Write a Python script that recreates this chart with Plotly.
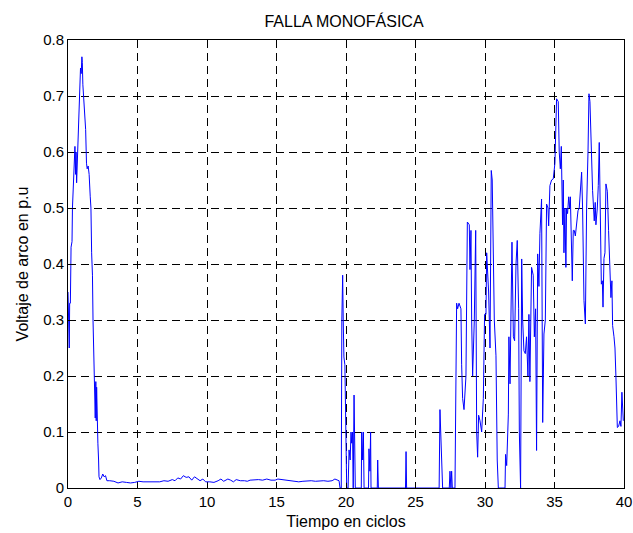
import plotly.graph_objects as go

# Segment 1: initial arc (0 - 2.2 cycles)
x_start = [0.00, 0.03, 0.06, 0.09, 0.12, 0.17, 0.22, 0.29, 0.32, 0.36, 0.42, 0.46, 0.50, 0.55, 0.58,
           0.62, 0.66, 0.72, 0.77, 0.82, 0.86, 0.90, 0.95, 1.00, 1.03, 1.07, 1.12, 1.18, 1.27, 1.33,
           1.38, 1.45, 1.52, 1.60, 1.65, 1.70, 1.76, 1.80, 1.86, 1.88, 1.92, 1.96, 2.00, 2.03, 2.06,
           2.10, 2.15, 2.20, 2.23]
y_start = [0.35, 0.30, 0.34, 0.25, 0.33, 0.33, 0.43, 0.44, 0.50, 0.53, 0.55, 0.59, 0.61, 0.56, 0.60,
           0.545, 0.575, 0.58, 0.64, 0.66, 0.72, 0.75, 0.74, 0.77, 0.76, 0.72, 0.70, 0.68, 0.64, 0.58,
           0.57, 0.575, 0.56, 0.52, 0.50, 0.42, 0.38, 0.30, 0.24, 0.18, 0.17, 0.125, 0.19, 0.12, 0.18,
           0.09, 0.08, 0.05, 0.02]

# Segment 2: low plateau (2.3 - 19.4 cycles)
x_flat = [2.3, 2.4, 2.5, 2.6, 2.7, 2.8, 3.0, 3.3, 3.6, 3.9, 4.2, 4.5, 4.8, 5.1, 5.4, 5.7, 6.0, 6.3,
          6.6, 6.9, 7.2, 7.5, 7.7, 7.9, 8.1, 8.3, 8.5, 8.7, 8.9, 9.1, 9.3, 9.5, 9.7, 9.9, 10.2, 10.5,
          10.8, 11.0, 11.2, 11.5, 11.7, 11.9, 12.1, 12.4, 12.7, 12.9, 13.1, 13.4, 13.7, 14.0, 14.3,
          14.6, 14.9, 15.1, 15.4, 15.7, 16.0, 16.3, 16.6, 16.9, 17.2, 17.5, 17.8, 18.1, 18.4, 18.7,
          19.0, 19.2, 19.4]
y_flat = [0.015, 0.018, 0.025, 0.02, 0.022, 0.013, 0.013, 0.012, 0.009, 0.011, 0.010, 0.009, 0.010,
          0.012, 0.011, 0.011, 0.011, 0.012, 0.011, 0.013, 0.012, 0.015, 0.013, 0.018, 0.016, 0.022,
          0.019, 0.020, 0.014, 0.020, 0.017, 0.013, 0.016, 0.011, 0.011, 0.010, 0.013, 0.016, 0.012,
          0.016, 0.014, 0.011, 0.015, 0.013, 0.013, 0.012, 0.014, 0.015, 0.015, 0.014, 0.016, 0.014,
          0.014, 0.016, 0.015, 0.014, 0.013, 0.011, 0.011, 0.012, 0.013, 0.013, 0.012, 0.013, 0.013,
          0.012, 0.013, 0.016, 0.013]

# Segment 3: intermittent spikes (19.5 - 27.9 cycles)
x_mid = [19.50, 19.57, 19.66, 19.70, 19.76, 19.80, 19.85, 19.92, 19.98, 20.05, 20.15, 20.22, 20.30,
         20.36, 20.41, 20.47, 20.52, 20.58, 20.67, 21.10, 21.13, 21.20, 21.25, 21.30, 21.62, 21.65,
         21.72, 21.77, 21.80, 22.25, 22.28, 22.33, 24.28, 24.32, 24.36, 26.70, 26.76, 26.95, 27.43,
         27.48, 27.55, 27.60, 27.65, 27.84]
y_mid = [0.013, 0.0, 0.0, 0.30, 0.38, 0.30, 0.234, 0.22, 0.10, 0.0, 0.0, 0.068, 0.05,
         0.10, 0.08, 0.10, 0.0, 0.166, 0.0, 0.0, 0.10, 0.05, 0.10, 0.0, 0.0, 0.07,
         0.03, 0.10, 0.0, 0.0, 0.05, 0.0, 0.0, 0.065, 0.0, 0.0, 0.14, 0.0, 0.0,
         0.03, 0.0, 0.03, 0.0, 0.0]

# Segment 4: re-ignition (27.9 - 40 cycles)
x_end = [27.96, 28.03, 28.13, 28.27, 28.32, 28.39, 28.49, 28.63, 28.73, 28.87, 28.92, 28.99, 29.04,
         29.11, 29.23, 29.33, 29.40, 29.47, 29.54, 29.64, 29.76, 29.88, 29.97, 30.07, 30.12, 30.19,
         30.26, 30.36, 30.40, 30.45, 30.52, 30.60, 30.67, 30.79, 30.88, 30.96, 31.44, 31.48, 31.56,
         31.68, 31.72, 31.80, 31.87, 31.94, 32.04, 32.13, 32.23, 32.32, 32.42, 32.47, 32.56, 32.64,
         32.71, 32.80, 32.90, 32.99, 33.09, 33.16, 33.23, 33.35, 33.47, 33.55, 33.64, 33.71, 33.79,
         33.88, 33.95, 34.07, 34.15, 34.24, 34.34, 34.43, 34.53, 34.58, 34.67, 34.79, 34.91, 35.03,
         35.15, 35.27, 35.34, 35.42, 35.49, 35.54, 35.58, 35.63, 35.68, 35.75, 35.82, 35.87, 35.94,
         36.02, 36.09, 36.14, 36.21, 36.28, 36.35, 36.42, 36.50, 36.59, 36.69, 36.78, 36.88, 36.95,
         37.02, 37.12, 37.22, 37.31, 37.41, 37.48, 37.55, 37.62, 37.69, 37.74, 37.81, 37.86, 37.93,
         37.98, 38.08, 38.15, 38.22, 38.29, 38.37, 38.44, 38.49, 38.56, 38.63, 38.70, 38.80, 38.89,
         38.99, 39.06, 39.13, 39.18, 39.28, 39.35, 39.42, 39.52, 39.61, 39.71, 39.78, 39.85, 39.95]
y_end = [0.33, 0.32, 0.33, 0.32, 0.22, 0.16, 0.14, 0.20, 0.475, 0.47, 0.39, 0.46, 0.30,
         0.20, 0.30, 0.46, 0.10, 0.055, 0.13, 0.12, 0.10, 0.16, 0.31, 0.31, 0.42, 0.39,
         0.35, 0.25, 0.42, 0.567, 0.55, 0.42, 0.30, 0.236, 0.05, 0.0, 0.0, 0.06, 0.04,
         0.132, 0.27, 0.186, 0.305, 0.439, 0.27, 0.263, 0.40, 0.442, 0.32, 0.10, 0.0, 0.409,
         0.30, 0.245, 0.24, 0.27, 0.20, 0.31, 0.19, 0.394, 0.38, 0.27, 0.32, 0.067, 0.418,
         0.36, 0.454, 0.516, 0.117, 0.275, 0.30, 0.507, 0.50, 0.468, 0.54, 0.55, 0.552, 0.58,
         0.695, 0.69, 0.60, 0.57, 0.61, 0.52, 0.47, 0.55, 0.42, 0.50, 0.394, 0.50, 0.49,
         0.52, 0.50, 0.52, 0.45, 0.37, 0.46, 0.46, 0.45, 0.47, 0.495, 0.50, 0.531, 0.564,
         0.50, 0.335, 0.293, 0.50, 0.60, 0.704, 0.69, 0.623, 0.60, 0.531, 0.50, 0.477, 0.51,
         0.47, 0.50, 0.54, 0.617, 0.44, 0.364, 0.37, 0.323, 0.41, 0.42, 0.543, 0.53, 0.46,
         0.382, 0.34, 0.37, 0.29, 0.27, 0.25, 0.198, 0.108, 0.11, 0.12, 0.11, 0.171, 0.12]

t = x_start + x_flat + x_mid + x_end
v = y_start + y_flat + y_mid + y_end

x_ticks = [0, 5, 10, 15, 20, 25, 30, 35, 40]
y_ticks = [0, 0.1, 0.2, 0.3, 0.4, 0.5, 0.6, 0.7, 0.8]
y_tick_text = ["0", "0.1", "0.2", "0.3", "0.4", "0.5", "0.6", "0.7", "0.8"]

FONT = "Liberation Sans, Arial, Helvetica"

fig = go.Figure()
fig.add_trace(go.Scatter(x=t, y=v, mode="lines",
                         line=dict(color="#0000ff", width=1), showlegend=False))

axis_common = dict(
    showline=True, linecolor="black", linewidth=1, mirror="ticks",
    ticks="inside", ticklen=5, tickcolor="black",
    showgrid=True, gridcolor="black", griddash="8px,5px", gridwidth=1,
    zeroline=False, automargin=False,
    tickfont=dict(family=FONT, size=15, color="black"),
)

fig.update_layout(
    width=633, height=533,
    margin=dict(l=68, r=9, t=40, b=45),
    paper_bgcolor="white", plot_bgcolor="white",
    title=dict(text="FALLA MONOFÁSICA", x=344 / 633, xanchor="center",
               y=1 - 21 / 533, yanchor="middle",
               font=dict(family=FONT, size=16, color="black")),
    xaxis=dict(range=[0, 40], tickvals=x_ticks,
               title=dict(text="Tiempo en ciclos", standoff=6,
                          font=dict(family=FONT, size=16, color="black")),
               **axis_common),
    yaxis=dict(range=[0, 0.8], tickvals=y_ticks, ticktext=y_tick_text,
               title=dict(text="Voltaje de arco en p.u", standoff=10,
                          font=dict(family=FONT, size=16, color="black")),
               **axis_common),
)

fig.write_html("out.html", config={"displayModeBar": False},
               post_script="document.body.style.margin='0';document.body.style.padding='0';")
